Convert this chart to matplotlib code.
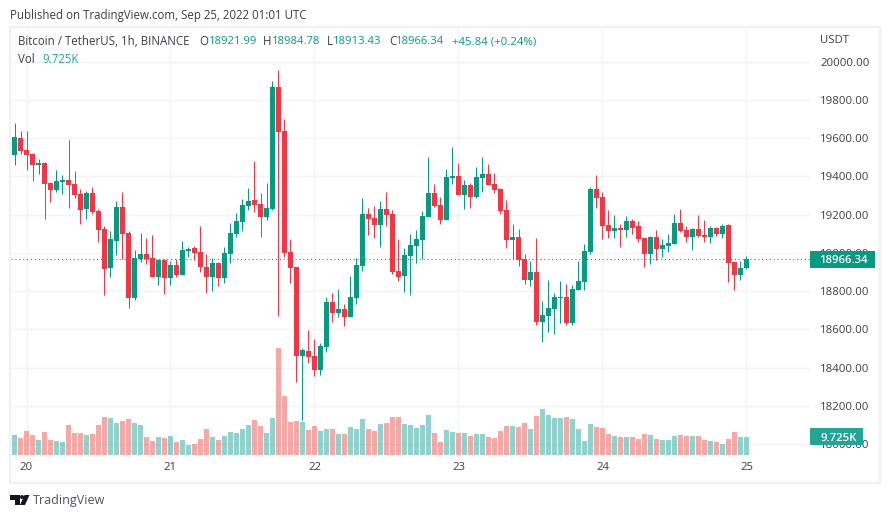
import numpy as np
import matplotlib
matplotlib.use('Agg')
import matplotlib.pyplot as plt
from matplotlib.patches import Rectangle, Polygon, Circle
from matplotlib.colors import to_rgba

plt.rcParams['font.family'] = ['Open Sans', 'DejaVu Sans']

##### hourly candles
open_ = [19512,19601,19539,19518,19460,19471,19366,19329,19371,19382,
         19361,19308,19230,19314,19220,19125,18922,19063,19240,19105,
         18765,18969,18995,18974,18874,18963,18869,18937,18885,19010,
         19026,19005,18927,18874,18948,18869,18995,19100,19162,19246,
         19278,19257,19189,19231,19870,19639,19005,18927,18460,18486,
         18460,18387,18507,18743,18686,18707,18665,18764,18932,19204,
         19182,19146,19229,19203,18905,18879,18983,19036,19067,19187,
         19313,19250,19172,19391,19402,19302,19355,19292,19391,19412,
         19360,19334,19224,19067,19083,18968,18858,18900,18638,18670,
         18706,18764,18769,18633,18806,18847,19004,19334,19292,19145,
         19114,19130,19119,19166,19140,19077,18994,19083,19020,19036,
         19046,19156,19119,19083,19124,19093,19083,19130,19098,19145,
         18952,18884,18921.99]
high = [19680,19638,19638,19523,19491,19476,19371,19434,19408,19591,
        19429,19335,19324,19345,19230,19141,19115,19272,19319,19115,
        19016,19105,19078,19094,18969,18969,18958,18969,19063,19031,
        19037,19138,18995,18974,18953,19031,19157,19210,19283,19341,
        19482,19314,19367,19901,19959,19702,19073,18927,18502,18597,
        18549,18528,18769,18790,18811,18733,18879,18974,19288,19236,
        19245,19271,19318,19224,19072,19025,19098,19119,19219,19501,
        19360,19292,19438,19553,19470,19381,19365,19449,19501,19465,
        19417,19339,19276,19151,19125,18994,18957,19078,18748,18858,
        18790,18853,18837,18832,18957,19046,19344,19407,19318,19224,
        19198,19151,19192,19177,19166,19083,19088,19119,19072,19098,
        19203,19229,19140,19130,19198,19172,19140,19135,19151,19151,
        18952,18957,18984.78]
low = [19460,19518,19434,19376,19413,19178,19267,19319,19308,19235,
       19288,19152,19178,19204,19057,18780,18874,18990,18969,18712,
       18754,18953,18942,18874,18833,18786,18833,18874,18885,18979,
       18963,18900,18790,18801,18827,18843,18948,19084,19115,19225,
       19215,19084,19173,19225,18670,18979,18843,18324,18125,18424,
       18356,18361,18481,18638,18665,18618,18665,18733,18906,19094,
       19078,19030,19140,18889,18853,18795,18780,18947,18968,19187,
       19240,19151,19172,19360,19302,19229,19234,19287,19318,19355,
       19313,19203,19025,18968,18931,18837,18827,18623,18534,18586,
       18576,18633,18622,18622,18806,18806,18994,19234,19072,19077,
       19077,19030,19083,19098,19056,18926,18941,18962,18978,19004,
       19046,19109,19056,19015,19083,19056,19051,19088,19077,18847,
       18806,18858,18913.43]
close = [19607,19533,19512,19460,19471,19361,19329,19376,19382,19356,
         19303,19225,19314,19214,19120,18916,19073,19240,19099,18765,
         18974,18995,18969,18874,18963,18869,18937,18885,19016,19021,
         19000,18927,18874,18948,18869,19000,19105,19168,19252,19272,
         19252,19189,19236,19870,19634,19000,18921,18460,18492,18455,
         18387,18513,18743,18686,18707,18665,18769,18937,19204,19178,
         19146,19229,19198,18900,18874,18989,19041,19072,19193,19313,
         19245,19172,19397,19402,19302,19355,19292,19397,19412,19355,
         19329,19219,19067,19083,18963,18858,18900,18638,18675,18712,
         18769,18769,18633,18811,18853,19009,19334,19287,19140,19114,
         19130,19119,19166,19130,19072,18994,19083,19020,19041,19051,
         19156,19114,19083,19124,19088,19083,19130,19098,19140,18947,
         18884,18921,18966.34]
volume = [10.8,9.2,13.0,10.8,8.1,12.4,8.1,7.6,7.0,16.2,
          11.9,11.9,10.8,11.3,16.2,20.5,20.0,17.3,18.4,19.4,
          17.3,16.2,9.7,7.6,9.7,9.2,10.3,7.0,8.1,5.4,
          5.9,8.6,14.0,9.7,8.1,10.3,12.4,11.9,14.0,16.2,
          18.9,15.7,11.9,20.0,57.8,31.9,17.8,18.4,17.8,13.5,
          15.7,13.0,14.0,14.0,11.3,11.3,15.1,14.0,19.4,14.0,
          13.0,16.7,17.3,20.5,20.5,16.7,16.2,14.6,16.2,21.6,
          11.9,7.0,13.5,12.4,11.9,11.9,10.3,11.3,11.3,9.7,
          9.2,13.0,15.7,15.7,15.1,17.3,14.0,21.1,24.8,21.6,
          20.0,20.0,20.5,19.4,14.0,7.6,16.7,15.1,14.6,11.3,
          10.3,9.7,9.7,9.7,8.6,11.3,10.8,8.6,8.1,8.1,
          10.3,10.8,10.3,10.3,10.3,8.1,7.6,7.0,5.9,8.6,
          12.4,9.7,9.725]

day_ticks = [2, 26, 50, 74, 98, 122]
day_labels = ['20', '21', '22', '23', '24', '25']
price_ticks = np.arange(18000, 20001, 200)

UP = '#089981'
DOWN = '#f23645'
GRID = '#f2f3f7'
TEXT = '#3c3d47'

W, H = 890, 518
fig = plt.figure(figsize=(W/100, H/100), dpi=100, facecolor='white')


def frac_x(px):
    return px / W


def frac_y(py):
    return 1 - py / H


# pixel box of the plot, y limits are set so 20000 and 18000 land on their rows
left, right, top, bottom = 11, 810, 27, 457
ax = fig.add_axes([frac_x(left), frac_y(bottom), (right-left)/W, (bottom-top)/H])
ax.set_xlim((left-14.5)/6, (right-14.5)/6)
ax.set_ylim(17932, 20181.5)

x = np.arange(len(open_))
op = np.array(open_)
hi = np.array(high)
lo = np.array(low)
cl = np.array(close)
cols = [UP if c >= o else DOWN for o, c in zip(op, cl)]

ax.axhline(close[-1], color=UP, lw=0.8, ls=(0, (1, 2.5)), zorder=1.5)
wicks = ax.vlines(x, lo, hi, colors=cols, lw=0.72, zorder=2)
wicks.set_snap(True)
ax.bar(x, np.abs(cl-op), bottom=np.minimum(op, cl), width=5/6, color=cols, linewidth=0, zorder=3)

##### volume, sits on its own scale at the bottom
vax = ax.twinx()
vax.set_ylim(-1.08, 231.1)
vol_cols = [to_rgba('#26a69a', 0.5) if c >= o else to_rgba('#ef5350', 0.5) for o, c in zip(op, cl)]
vax.bar(x, volume, width=5/6, color=vol_cols, linewidth=0)
vax.axis('off')

# twinx moves the ticks to the left, so this has to come after it
ax.set_xticks(day_ticks)
ax.set_xticklabels(day_labels)
ax.set_yticks(price_ticks)
ax.set_yticklabels(['%.2f' % p for p in price_ticks])
ax.yaxis.tick_right()
ax.tick_params(axis='both', length=0, labelsize=8.2, labelcolor=TEXT)
ax.tick_params(axis='y', pad=7.2)
ax.tick_params(axis='x', pad=3.5)
ax.grid(True, color=GRID, lw=1.0)
ax.set_axisbelow(True)
for s in ax.spines.values():
    s.set_visible(False)

##### outer frame
fig.add_artist(Rectangle((frac_x(10), frac_y(482.5)), 870/W, 455.5/H, transform=fig.transFigure,
                         fill=False, ec='#f0f0f6', lw=1.5))

##### price tags on the axis
fig.canvas.draw()
last_y = ax.transData.transform((0, close[-1]))[1]
vol_y = vax.transData.transform((0, volume[-1]))[1]
fig.add_artist(Rectangle((810, last_y-8.5), 65, 17, transform=None, fc=UP, ec='none', zorder=2))
fig.add_artist(Rectangle((810, vol_y-8.5), 53, 17, transform=None, fc='#22a596', ec='none', zorder=2))
fig.text(868/W, last_y/H, '%.2f' % close[-1], color='white', fontsize=8.2, ha='right', va='center_baseline', fontweight='semibold', zorder=3)
fig.text(857/W, vol_y/H, '9.725K', color='white', fontsize=8.2, ha='right', va='center_baseline', fontweight='semibold', zorder=3)

##### header and legend text
fig.text(frac_x(10), frac_y(15.5), 'Published on TradingView.com, Sep 25, 2022 01:01 UTC', color=TEXT, fontsize=8.3, va='center')
fig.text(frac_x(820), frac_y(40.7), 'USDT', color=TEXT, fontsize=8.2, va='center')

legend_y = frac_y(41.7)
fig.text(frac_x(18), legend_y, 'Bitcoin / TetherUS, 1h, BINANCE', color=TEXT, fontsize=8.3, va='center')
for lab, lab_x, val, val_x in [('O', 199, '18921.99', 209), ('H', 263, '18984.78', 271.5),
                               ('L', 327, '18913.43', 333), ('C', 389, '18966.34', 396)]:
    fig.text(frac_x(lab_x), legend_y, lab, color=TEXT, fontsize=8.3, va='center')
    fig.text(frac_x(val_x), legend_y, val, color=UP, fontsize=8.1, va='center')
fig.text(frac_x(452), legend_y, '+45.84 (+0.24%)', color=UP, fontsize=8.2, va='center')
fig.text(frac_x(18), frac_y(59.3), 'Vol', color=TEXT, fontsize=8.3, va='center')
fig.text(frac_x(42), frac_y(59.3), '9.725K', color='#26a69a', fontsize=8.3, va='center')

##### logo in the footer
LOGO = '#131722'
fig.add_artist(Polygon([(10, 23), (19.5, 23), (19.5, 13), (15, 13), (15, 18.5), (10, 18.5)], transform=None, fc=LOGO, ec='none'))
fig.add_artist(Circle((22, 21), 2, transform=None, fc=LOGO, ec='none'))
fig.add_artist(Polygon([(24.5, 23), (29.5, 23), (25, 13), (20, 13)], transform=None, fc=LOGO, ec='none'))
fig.text(frac_x(33), frac_y(500.5), 'TradingView', color='#50535e', fontsize=9.0, va='center')

fig.savefig('out.png', dpi=100)
